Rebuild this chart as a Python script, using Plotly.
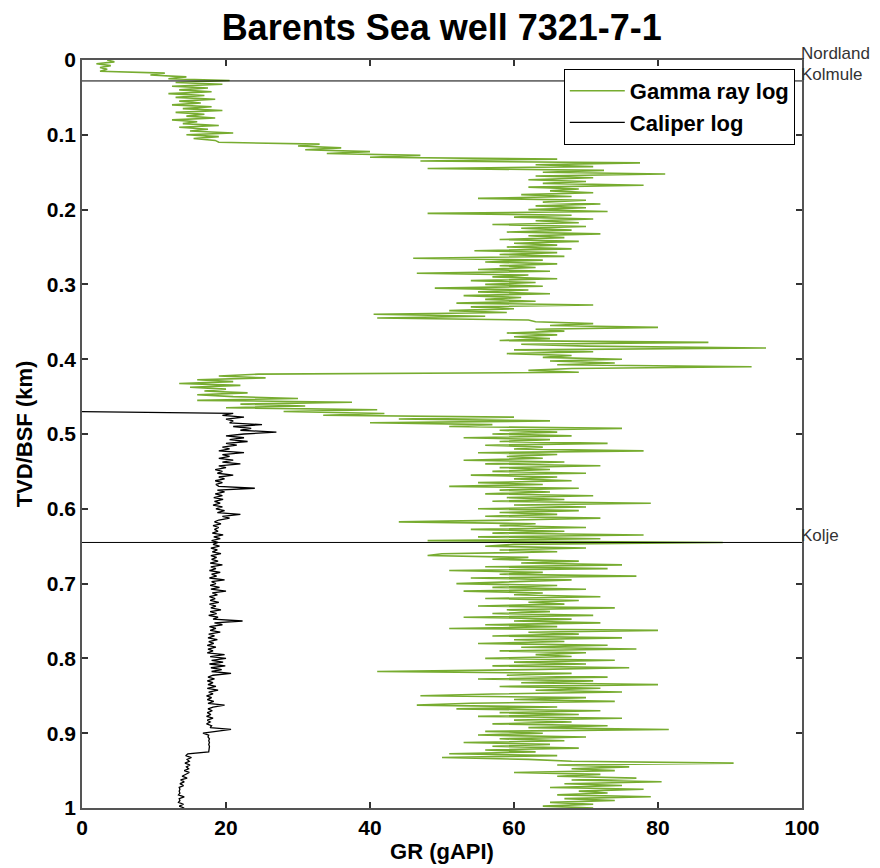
import plotly.graph_objects as go

# ---------------- data ----------------
GR_START = 0.0          # km, first gamma-ray sample depth
GR_STEP = 0.0025        # km, sample interval
gamma_ray = [
    3.5, 4.5, 2.0, 4.0, 2.5, 3.5, 2.5, 11.5, 9.5, 14.5, 12.0, 20.5, 13.0, 19.5, 12.5, 17.5, 13.5, 18.0, 12.0, 17.0,
    13.0, 18.5, 13.5, 16.5, 12.5, 18.0, 14.0, 19.5, 13.0, 17.0, 14.5, 18.5, 12.5, 16.0, 14.0, 19.0, 13.5, 17.5, 15.0, 21.0,
    14.5, 19.0, 15.5, 18.5, 19.0, 33.0, 30.0, 36.0, 31.0, 40.0, 34.0, 47.0, 40.0, 66.0, 47.0, 77.5, 63.0, 71.0, 48.0, 72.5,
    64, 81, 63, 71, 62, 70, 64, 78, 62, 69, 65, 71, 61, 68, 55, 70, 64, 72, 63, 70,
    62, 73, 48, 68, 60, 71, 63, 69, 57, 70, 61, 68, 59, 72, 62, 67, 58, 69, 60, 66,
    59, 68, 54.5, 66, 58, 67, 46, 64, 56, 66, 58, 63, 55, 65, 46.5, 62, 57, 66, 54, 63,
    56, 64, 49, 62, 55, 65, 53, 61, 56, 63, 52, 71, 54, 60, 51, 59, 40.5, 56, 41, 62,
    63, 71, 65, 80, 63, 67, 59, 66, 60, 65, 58, 87, 61, 70, 95, 60, 71, 59, 68, 64,
    75, 65, 74, 66, 93, 68, 62, 69, 24.5, 19, 25.5, 16, 21, 13.5, 22, 15, 20, 17, 23, 16,
    21, 30, 16, 37.5, 22, 31, 20, 41, 28, 42, 33.5, 60, 44, 65, 40, 57, 51, 75, 58, 66,
    57, 68, 53, 65, 58, 73, 56, 64, 60, 78, 55, 66, 59, 64, 53, 67, 56, 72, 58, 65,
    57, 70, 54, 66, 60, 68, 55, 64, 51, 69, 58, 65, 56, 71, 59, 67, 57, 79, 60, 70,
    55, 69, 58, 66, 56, 72, 60, 44, 63, 58, 70, 54, 67, 57, 78, 55, 72, 48, 89, 60,
    56, 70, 58, 66, 50, 48, 62, 57, 69, 61, 75, 56, 73, 51, 64, 58, 77, 54, 68, 60,
    52, 66, 57, 70, 53, 64, 60, 72, 56, 69, 62, 67, 55, 74, 59, 65, 57, 71, 53, 68,
    60, 72, 56, 66, 51, 80, 62, 69, 57, 75, 60, 67, 55, 73, 61, 77, 58, 70, 63, 68,
    56, 74, 60, 70, 57, 76, 62, 41, 68, 59, 73, 55, 71, 61, 80, 58, 72, 63, 75, 57,
    47, 70, 60, 74, 54, 46.5, 66, 52, 72, 58, 69, 55, 75, 60, 68, 57, 73, 62, 81.5, 56,
    64, 55, 70, 58, 67, 53, 65, 57, 69, 56, 63, 51, 66, 50, 62, 68, 90.5, 66, 76, 68,
    74, 60, 72, 66, 77, 68, 80.5, 67, 75, 65, 78, 69, 73, 66, 79, 67, 74, 65, 71, 64,
    71,
]

CAL_START = 0.47        # km, first caliper sample depth
CAL_STEP = 0.0025
caliper = [
    0.0,
    21, 19.5, 22.5, 20, 21, 20.5, 25, 21, 23.5, 22, 27, 22.5, 20, 22.5, 20.5, 23, 20, 21.5, 19.5,
    20.5, 19, 22.5, 19.5, 20.5, 19, 21, 19.5, 22, 19, 20, 18.5, 19.5, 18.8, 21, 19, 19.8, 18.5, 19.5, 18.6,
    19, 24, 18.8, 19.8, 18.5, 19.5, 18.3, 19.6, 18.4, 19.2, 18.2, 19.5, 18.6, 19.8, 18.8, 22, 19.5, 20.5, 19, 18.4,
    19.3, 18.2, 19, 18.4, 18.9, 18.1, 19.6, 18.3, 19.2, 18, 18.9, 18.2, 19.1, 17.9, 18.8, 18.1, 19.3, 17.9, 18.7, 18,
    18.9, 17.8, 19.5, 17.9, 18.6, 17.7, 19.2, 18, 18.7, 17.7, 19.8, 18, 18.6, 17.8, 19.1, 17.9, 20, 18.1, 18.8, 17.7,
    18.5, 17.8, 19, 17.7, 18.6, 17.9, 19.3, 17.8, 18.7, 17.6, 18.9, 18.2, 22.3, 18.4, 19.5, 17.7, 18.6, 17.8, 19.2, 17.6,
    18.4, 17.5, 18.8, 17.6, 18.3, 17.4, 18.6, 17.5, 18.2, 17.4, 19.8, 17.8, 20, 18, 19.6, 17.7, 19.9, 17.9, 19.4, 18,
    20.7, 18.2, 17.5, 18.4, 17.4, 18.2, 17.5, 18.6, 17.4, 18.9, 17.6, 18.2, 17.3, 18, 17.4, 18.3, 17.5, 19.8, 18.2, 17.5,
    18.1, 17.4, 17.9, 17.3, 18.2, 17.4, 17.8, 17.3, 18, 17.8, 20.7, 18.5, 16.8, 17.6, 17.5, 17.7, 17.6, 17.7, 17.6, 17.7,
    17.7, 17.7, 17.6, 14.7, 14.4, 15.2, 14.6, 14.9, 14.3, 15, 14.5, 14.8, 14.2, 14.9, 14.3, 13.9, 14.6, 13.7, 14.2, 13.6,
    14.1, 13.5, 13.6, 13.5, 13.6, 13.4, 14.2, 13.5, 13.6, 13.4, 14.1, 13.5, 14.2,
]

formation_names = ["Nordland", "Kolmule", "Kolje"]
formation_tops = [0.0, 0.028, 0.645]     # km
formation_lines = [False, True, True]

x_ticks = [0, 20, 40, 60, 80, 100]
y_ticks = [0, 0.1, 0.2, 0.3, 0.4, 0.5, 0.6, 0.7, 0.8, 0.9, 1.0]
y_ticklabels = ["0", "0.1", "0.2", "0.3", "0.4", "0.5", "0.6", "0.7", "0.8", "0.9", "1"]

# ---------------- figure ----------------
gr_depth = [GR_START + i * GR_STEP for i in range(len(gamma_ray))]
cal_depth = [CAL_START + i * CAL_STEP for i in range(len(caliper))]

FONT = "Liberation Sans, Arial, sans-serif"
fig = go.Figure()
fig.add_trace(go.Scatter(x=gamma_ray, y=gr_depth, mode="lines", name="Gamma ray log",
                         line=dict(color="#77AC30", width=1.6)))
fig.add_trace(go.Scatter(x=caliper, y=cal_depth, mode="lines", name="Caliper log",
                         line=dict(color="#000000", width=1.3)))

for name, top, line in zip(formation_names, formation_tops, formation_lines):
    if line:
        fig.add_shape(type="line", xref="x domain", yref="y", x0=0, x1=1, y0=top, y1=top,
                      line=dict(color="black", width=1))
    fig.add_annotation(xref="x domain", yref="y", x=1.0, y=top, text=name, showarrow=False,
                       xanchor="left", yanchor="bottom", xshift=-3, yshift=-5,
                       font=dict(family=FONT, size=17, color="#333"))

axis_common = dict(showline=True, linecolor="#555", linewidth=1.5, mirror="ticks",
                   ticks="inside", ticklen=6, tickcolor="#333", tickwidth=1.5,
                   showgrid=False, zeroline=False, automargin=False,
                   tickfont=dict(family=FONT, size=21, color="black", weight="bold"))

fig.update_xaxes(range=[0, 100], tickvals=x_ticks, title=dict(text="<b>GR (gAPI)</b>",
                 font=dict(family=FONT, size=22, color="black"), standoff=6), **axis_common)
fig.update_yaxes(range=[1, 0], tickvals=y_ticks, ticktext=y_ticklabels,
                 title=dict(text="<b>TVD/BSF (km)</b>", font=dict(family=FONT, size=22, color="black"),
                            standoff=8), **axis_common)

fig.update_layout(
    width=880, height=868,
    margin=dict(l=82, r=78, t=60, b=60, autoexpand=False),
    paper_bgcolor="white", plot_bgcolor="white",
    title=dict(text="<b>Barents Sea well 7321-7-1</b>", x=0.502, xanchor="center", y=0.969, yanchor="middle",
               font=dict(family=FONT, size=36, color="black")),
    legend=dict(x=0.99, y=0.988, xanchor="right", yanchor="top", bgcolor="white",
                bordercolor="black", borderwidth=1, tracegroupgap=0, itemwidth=55,
                font=dict(family=FONT, size=22, color="black", weight="bold")),
    showlegend=True,
)

fig.write_html("out.html")
